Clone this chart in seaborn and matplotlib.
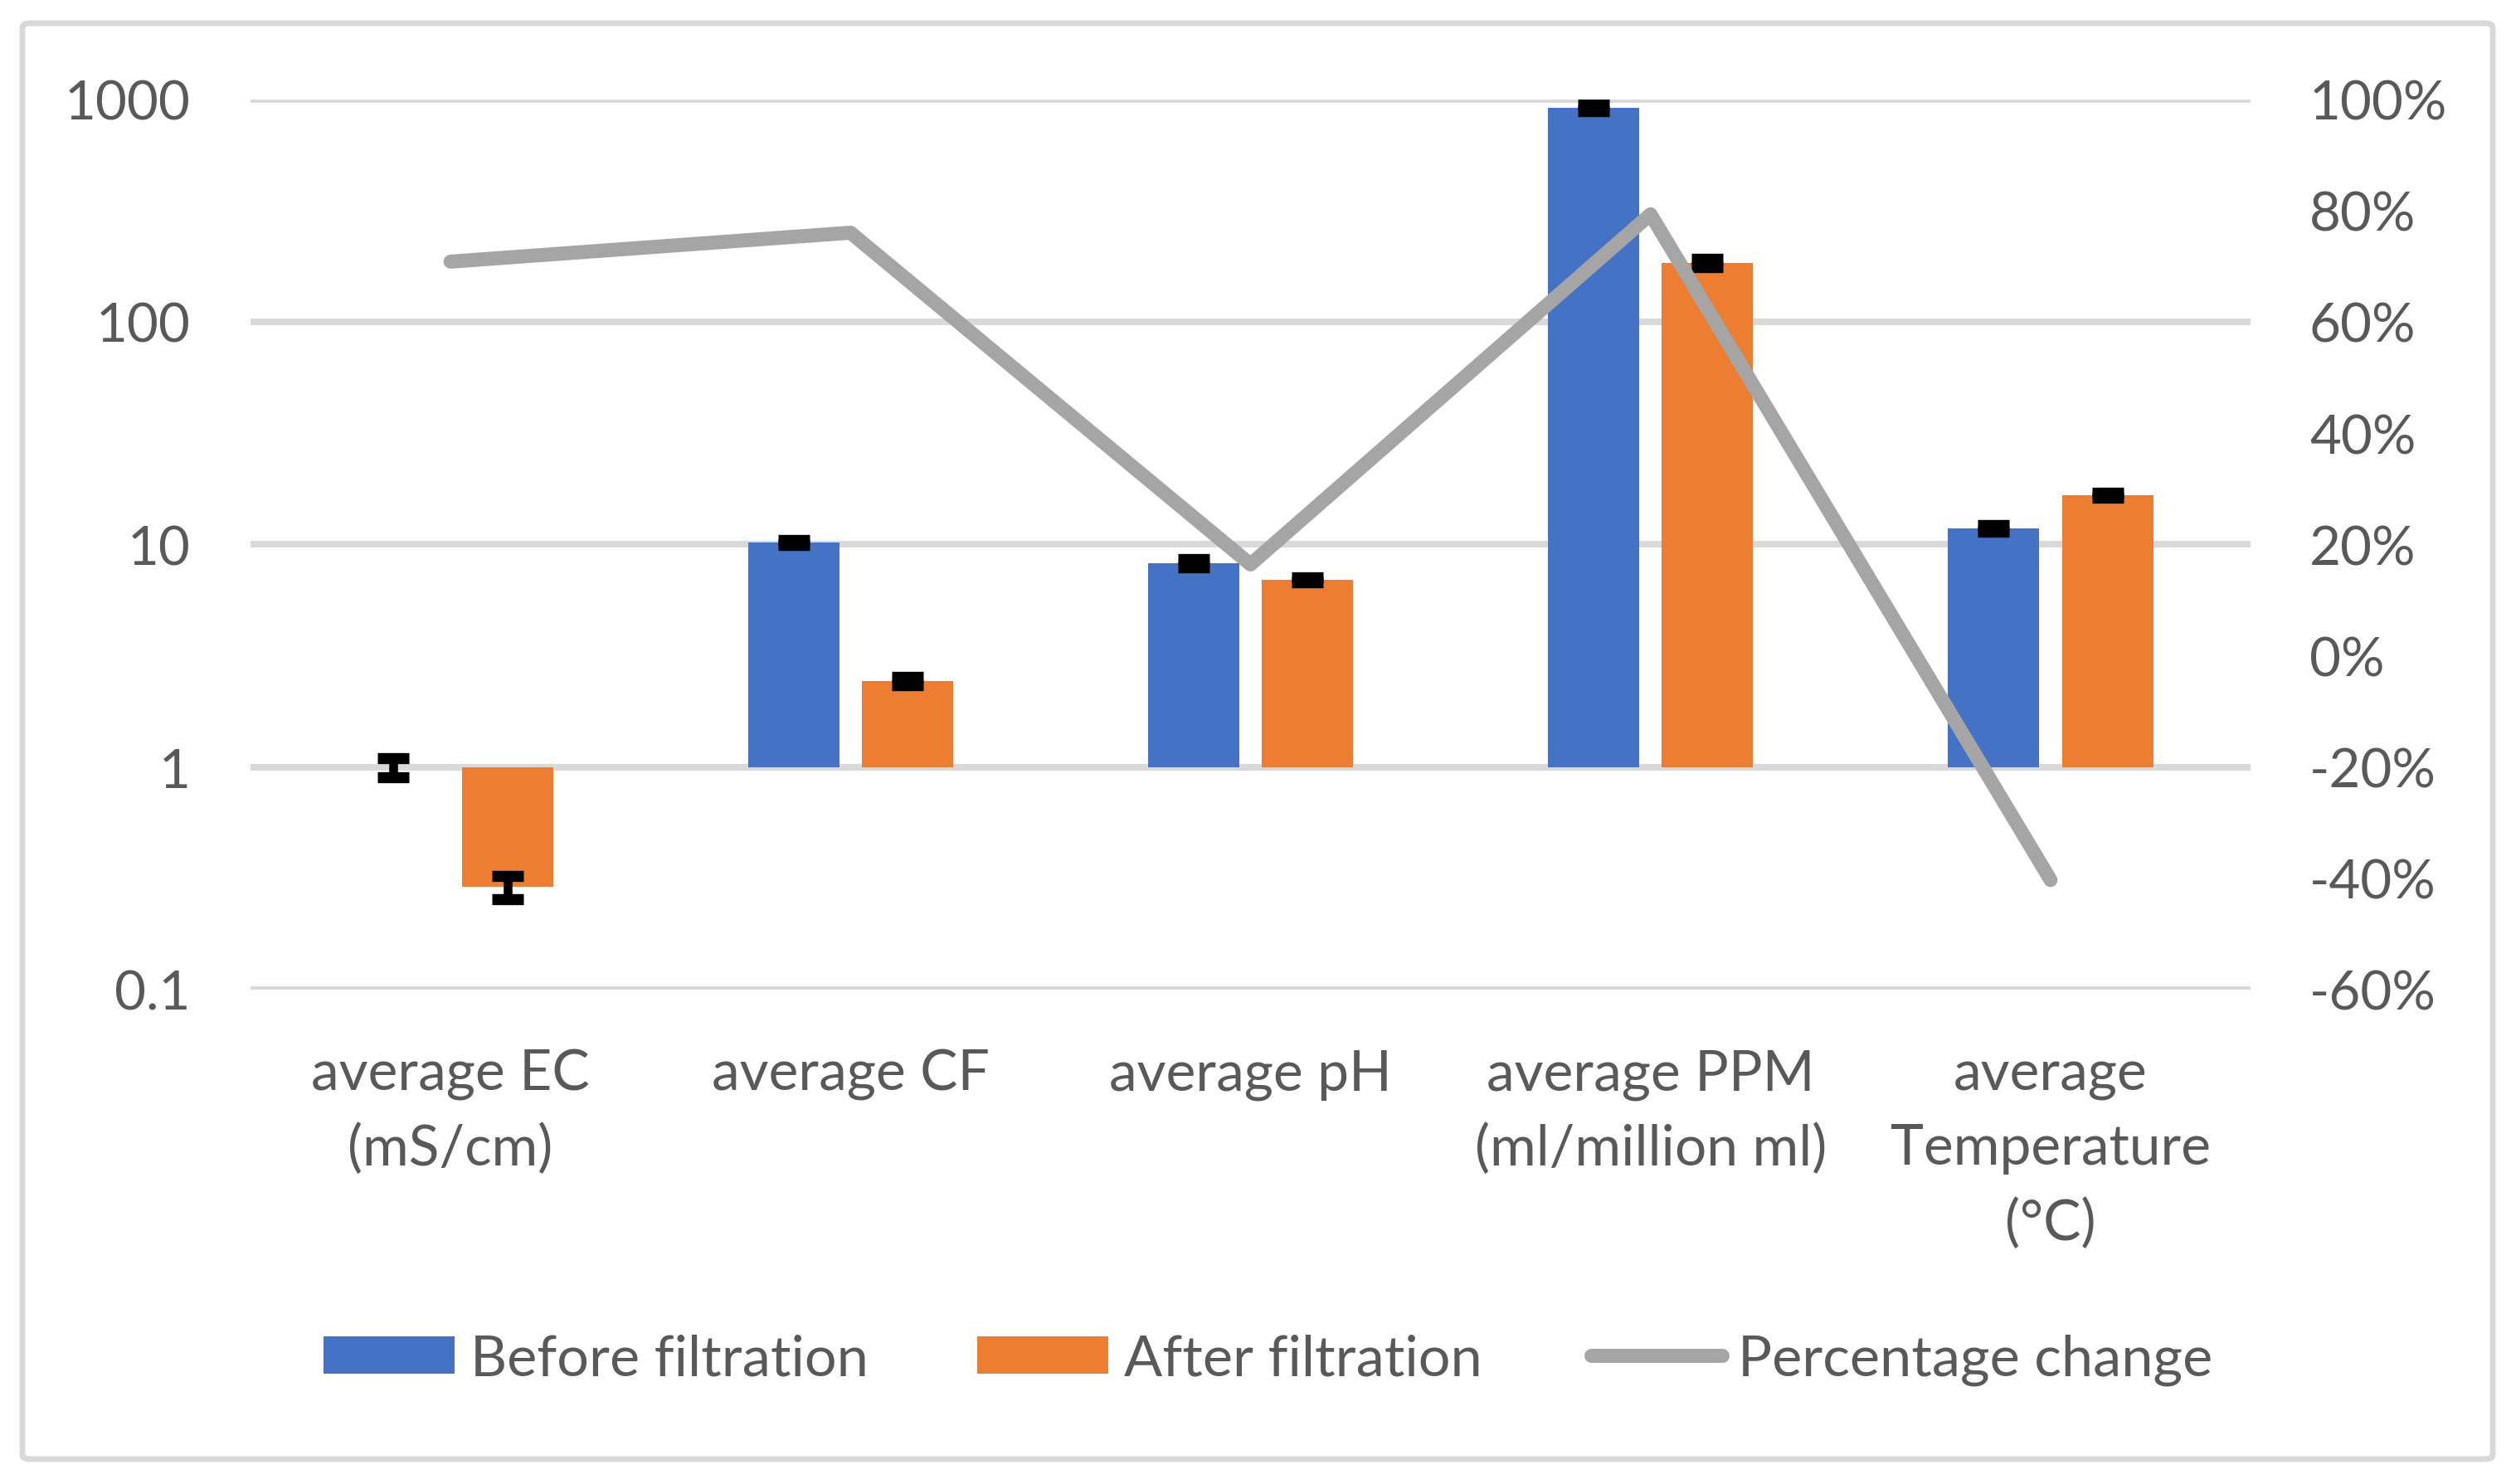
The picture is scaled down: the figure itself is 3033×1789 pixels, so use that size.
import numpy as np
import matplotlib.pyplot as plt
import seaborn as sns
from matplotlib.patches import Patch, FancyBboxPatch
from matplotlib.lines import Line2D
from matplotlib.ticker import FixedLocator, FuncFormatter

# --- data ---
categories = [
    "average EC\n(mS/cm)",
    "average CF",
    "average pH",
    "average PPM\n(ml/million ml)",
    "average\nTemperature\n(°C)",
]
before_vals = [1.0, 10.2, 8.25, 914.0, 11.8]
before_err = [0.1, 0.25, 0.34, 34.0, 0.39]
after_vals = [0.29, 2.44, 6.95, 184.0, 16.66]
after_err = [0.035, 0.1, 0.17, 8.3, 0.4]
pct_change = [0.708, 0.760, 0.164, 0.793, -0.403]

left_ticks = [0.1, 1, 10, 100, 1000]
right_ticks = [-0.6, -0.4, -0.2, 0.0, 0.2, 0.4, 0.6, 0.8, 1.0]

BLUE = "#4472C4"
ORANGE = "#ED7D31"
GRAY = "#A5A5A5"
GRID = "#D9D9D9"
TEXT = "#595959"

sns.set_theme(style="white")
plt.rcParams["font.family"] = ["Lato", "DejaVu Sans"]

DPI = 200
FS = 23.6
FS_TEXT = 24.4

fig = plt.figure(figsize=(3033 / DPI, 1790 / DPI), dpi=DPI)
ax = fig.add_axes([302 / 3033, 1 - 1194 / 1790, (2713 - 302) / 3033, (1194 - 120.5) / 1790])

x = np.arange(len(categories))
width = 0.228
offset = 0.1425

# bars hang from 1 like in the Excel log axis
ax.bar(x - offset, np.array(before_vals) - 1, bottom=1, width=width, color=BLUE,
       edgecolor="none", linewidth=0, zorder=2)
ax.bar(x + offset, np.array(after_vals) - 1, bottom=1, width=width, color=ORANGE,
       edgecolor="none", linewidth=0, zorder=2)
ax.errorbar(x - offset, before_vals, yerr=before_err, fmt="none", ecolor="black",
            elinewidth=3.8, capsize=7, capthick=4.8, zorder=3)
ax.errorbar(x + offset, after_vals, yerr=after_err, fmt="none", ecolor="black",
            elinewidth=3.8, capsize=7, capthick=4.8, zorder=3)

ax.set_yscale("log")
ax.set_ylim(0.1, 1000)
ax.set_xlim(-0.5, len(categories) - 0.5)
ax.yaxis.set_major_locator(FixedLocator(left_ticks))
ax.yaxis.set_minor_locator(FixedLocator([]))
ax.yaxis.set_major_formatter(FuncFormatter(lambda v, p: f"{v:g}"))
ax.set_xticks(x)
ax.set_xticklabels(categories, linespacing=1.55, fontsize=FS_TEXT)
ax.grid(True, axis="y", color=GRID, linewidth=2.9)
ax.grid(False, axis="x")
ax.set_axisbelow(True)
for s in ax.spines.values():
    s.set_visible(False)
ax.tick_params(axis="y", length=0, pad=26, labelsize=FS, labelcolor=TEXT)
ax.tick_params(axis="x", length=0, pad=25.5, labelcolor=TEXT)

# percentage change on secondary axis
ax2 = ax.twinx()
sns.lineplot(x=x, y=pct_change, ax=ax2, color=GRAY, linewidth=6.1, zorder=4)
for ln in ax2.get_lines():
    ln.set_solid_capstyle("round")
    ln.set_solid_joinstyle("round")
ax2.set_ylim(-0.6, 1.0)
ax2.yaxis.set_major_locator(FixedLocator(right_ticks))
ax2.yaxis.set_major_formatter(FuncFormatter(lambda v, p: f"{v * 100:.0f}%"))
for s in ax2.spines.values():
    s.set_visible(False)
ax2.tick_params(axis="y", length=0, pad=25.5, labelsize=FS, labelcolor=TEXT)
ax2.grid(False)

handles = [
    Patch(facecolor=BLUE, edgecolor="none", label="Before filtration"),
    Patch(facecolor=ORANGE, edgecolor="none", label="After filtration"),
    Line2D([0], [0], color=GRAY, linewidth=6.1, solid_capstyle="round", label="Percentage change"),
]
leg = fig.legend(handles=handles, loc="center", bbox_to_anchor=(1529 / 3033, 1 - 1640 / 1790),
                 ncol=3, frameon=False, fontsize=24.6, handlelength=2.31, handleheight=0.64,
                 handletextpad=0.28, columnspacing=1.92)
for t in leg.get_texts():
    t.set_color(TEXT)

# chart area border
border = FancyBboxPatch((27 / 3033, 1 - 1760 / 1790), (3005 - 27) / 3033, (1760 - 29) / 1790,
                        boxstyle="round,pad=0,rounding_size=0.003", transform=fig.transFigure,
                        facecolor="none", edgecolor=GRID, linewidth=2.5)
fig.patches.append(border)

fig.savefig("out.png", dpi=DPI)
